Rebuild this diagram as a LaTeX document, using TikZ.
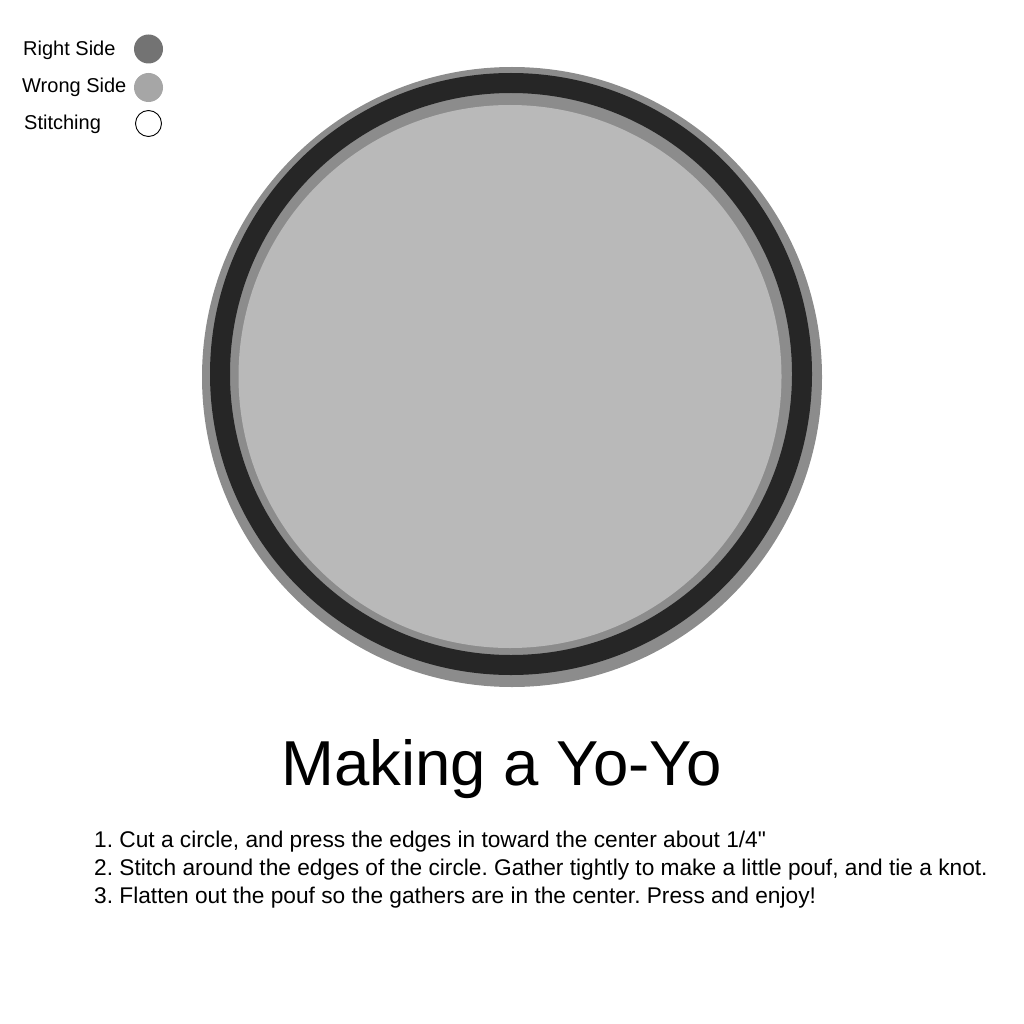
\documentclass[tikz,border=0pt]{standalone}
\usepackage{fontspec}
\setmainfont{Liberation Sans}
\usepackage{tikz}
\usetikzlibrary{positioning}

\definecolor{rightside}{HTML}{737373}
\definecolor{wrongside}{HTML}{A6A6A6}
\definecolor{rim}{HTML}{8C8C8C}
\definecolor{seam}{HTML}{262626}
\definecolor{face}{HTML}{B9B9B9}
\frenchspacing

\begin{document}
\begin{tikzpicture}[x=1pt, y=-1pt,
	key/.style={anchor=base west, inner sep=0pt, font=\fontsize{20}{24}\selectfont},
	dot/.style={circle, minimum size=29pt, inner sep=0pt},
	step line/.style={anchor=base west, inner sep=0pt, font=\fontsize{22.7}{27}\selectfont}]
	\useasboundingbox (0,0) rectangle (1024,1024);

	% legend
	\node[key] (k1) at (23,56) {Right Side};
	\node[key] (k2) at (22,93) {Wrong Side};
	\node[key] (k3) at (24,130) {Stitching};
	\node[dot, fill=rightside] (d1) at (148.5,49) {};
	\node[dot, fill=wrongside] (d2) at (148.5,87.5) {};
	\node[dot, draw=black, line width=0.9pt, minimum size=26pt] (d3) at (148.5,123.5) {};

	% the yo-yo
	\fill[rim] (512,377) circle (310);
	\draw[seam, line width=20pt] (511,374) circle (291);
	\fill[face] (510,376.5) circle (271.5);

	% title and steps
	\node[anchor=base, inner sep=0pt, font=\fontsize{63.5}{76}\selectfont] (title) at (501.5,785) {Making a Yo-Yo};
	\node[step line] (s1) at (94,847) {1. Cut a circle, and press the edges in toward the center about 1/4\textquotedbl};
	\node[step line] (s2) at (94,875) {2. Stitch around the edges of the circle. Gather tightly to make a little pouf, and tie a knot.};
	\node[step line] (s3) at (94,903) {3. Flatten out the pouf so the gathers are in the center. Press and enjoy!};
\end{tikzpicture}
\end{document}
